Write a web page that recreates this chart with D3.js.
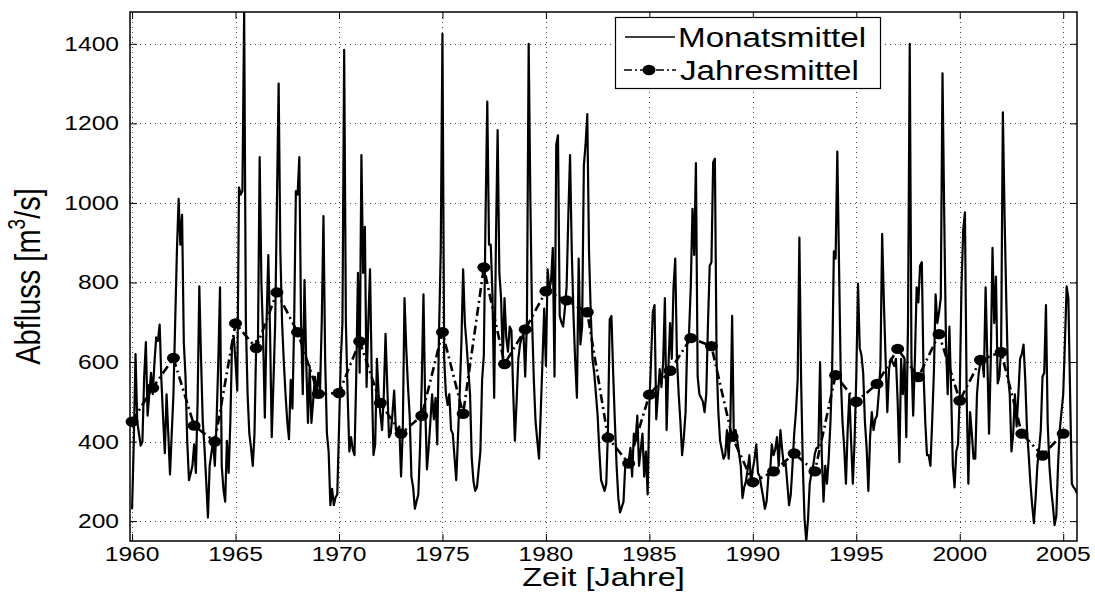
<!DOCTYPE html>
<html><head><meta charset="utf-8">
<script src="https://cdn.jsdelivr.net/npm/d3@7/dist/d3.min.js"></script>
<style>
body{margin:0;background:#fff}
svg{display:block}
text{font-family:"Liberation Sans",Arial,Helvetica,sans-serif;fill:#000}
</style>
</head><body>
<svg id="chart" width="1095" height="594"></svg>
<script>
// ---------------- data ----------------
const firstMonth = 1960;          // time of the first monthly value (Jan 1960)
const axisStart = 1959.9;         // left limit of the time axis
// Monatsmittel (monthly means, m^3/s), Jan..Dec per row
const m1960s = [
  230, 400, 620, 450, 420, 390, 400, 560, 650, 465, 520, 573,
  519, 600, 662, 653, 694, 555, 460, 371, 519, 420, 317, 420,
  519, 700, 878, 1010, 895, 970, 650, 563, 400, 303, 320, 339,
  393, 321, 500, 790, 608, 450, 384, 300, 209, 339, 370, 402,
  339, 450, 600, 788, 339, 280, 249, 402, 321, 450, 653, 662,
  600, 528, 1039, 1021, 1030, 1480, 698, 519, 420, 384, 339, 420,
  653, 644, 1115, 800, 662, 460, 698, 869, 680, 411, 550, 698,
  1000, 1300, 878, 698, 600, 519, 450, 406, 555, 483, 700, 1030,
  1021, 1115, 700, 519, 806, 600, 447, 590, 447, 500, 563, 519,
  573, 528, 700, 967, 600, 420, 375, 240, 281, 240, 260, 267
];
const m1970s = [
  429, 600, 698, 1385, 698, 520, 375, 411, 380, 366, 563, 824,
  573, 1120, 824, 940, 537, 700, 833, 563, 366, 393, 608, 519,
  470, 429, 519, 671, 540, 411, 420, 470, 528, 429, 429, 438,
  312, 429, 761, 635, 540, 465, 312, 285, 231, 250, 267, 384,
  550, 770, 492, 330, 384, 450, 519, 456, 510, 393, 671, 878,
  1425, 608, 520, 492, 519, 429, 420, 360, 303, 411, 519, 650,
  833, 698, 644, 580, 519, 357, 300, 276, 285, 330, 375, 555,
  617, 967, 1255, 895, 895, 770, 510, 895, 1183, 824, 761, 608,
  761, 662, 626, 689, 680, 528, 402, 500, 608, 644, 662, 671,
  563, 707, 1400, 1003, 700, 555, 450, 402, 357, 474, 600, 734
];
const m1980s = [
  590, 833, 779, 806, 887, 563, 1147, 1170, 716, 700, 689, 734,
  788, 967, 1120, 878, 716, 600, 510, 860, 644, 689, 1093, 1147,
  1223, 878, 725, 608, 573, 520, 465, 375, 303, 290, 276, 294,
  429, 707, 716, 573, 450, 339, 258, 222, 235, 249, 339, 348,
  350, 384, 312, 420, 402, 465, 339, 380, 420, 312, 375, 267,
  492, 608, 725, 743, 456, 519, 582, 537, 600, 761, 429, 582,
  698, 608, 788, 860, 608, 519, 450, 366, 411, 474, 653, 671,
  788, 985, 869, 1100, 563, 519, 510, 501, 474, 519, 698, 842,
  851, 1102, 1111, 600, 474, 402, 380, 357, 366, 429, 357, 450,
  716, 402, 429, 402, 370, 339, 258, 285, 300, 330, 366, 294
];
const m1990s = [
  330, 357, 393, 321, 312, 285, 260, 231, 250, 312, 321, 393,
  366, 380, 411, 339, 429, 380, 339, 348, 294, 240, 267, 339,
  420, 474, 555, 913, 555, 339, 204, 150, 204, 294, 320, 339,
  370, 384, 384, 600, 366, 249, 339, 294, 357, 447, 582, 878,
  860, 1129, 842, 563, 450, 384, 294, 429, 519, 400, 294, 400,
  563, 797, 635, 617, 573, 450, 384, 276, 411, 474, 429, 456,
  465, 519, 590, 922, 750, 608, 474, 582, 608, 600, 590, 608,
  500, 348, 608, 519, 608, 411, 698, 1400, 608, 465, 608, 788,
  750, 842, 851, 573, 450, 366, 366, 339, 450, 573, 770, 698,
  725, 761, 1326, 967, 653, 519, 689, 528, 339, 285, 375, 393
];
const m2000s = [
  519, 788, 931, 976, 519, 294, 474, 420, 357, 357, 519, 573,
  600, 608, 563, 788, 608, 420, 608, 887, 698, 815, 546, 563,
  635, 1228, 967, 752, 563, 519, 375, 420, 519, 438, 519, 608,
  620, 644, 555, 429, 366, 294, 240, 195, 258, 339, 380, 429,
  563, 573, 743, 447, 339, 280, 240, 190, 213, 339, 429, 474,
  519, 650, 790, 760, 519, 294, 285, 280, 270
];
// Jahresmittel (annual means), plotted at the start of each year
const annualYears = [1960,1961,1962,1963,1964,1965,1966,1967,1968,1969,
  1970,1971,1972,1973,1974,1975,1976,1977,1978,1979,
  1980,1981,1982,1983,1984,1985,1986,1987,1988,1989,
  1990,1991,1992,1993,1994,1995,1996,1997,1998,1999,
  2000,2001,2002,2003,2004,2005];
const annualMeans = [450,535,610,440,400,697,635,775,675,520,
  522,652,497,420,465,675,470,838,595,682,
  778,755,725,410,345,518,578,660,640,412,
  298,325,370,325,567,500,545,633,562,670,
  503,605,625,420,365,420];
const xTicks = [1960,1965,1970,1975,1980,1985,1990,1995,2000,2005];
const yTicks = [200,400,600,800,1000,1200,1400];
const legendLabels = ["Monatsmittel","Jahresmittel"];
const xTitle = "Zeit [Jahre]";

// ---------------- drawing ----------------
const monthly = [].concat(m1960s, m1970s, m1980s, m1990s, m2000s);
const monthlyPts = monthly.map((v, i) => [firstMonth + i / 12, v]);
const annualPts = annualYears.map((yr, i) => [yr, annualMeans[i]]);

const L = 130, R = 1077, T = 12, B = 541;
const SX = 1.23; // horizontal text stretch of the original figure

const x = d3.scaleLinear().domain([axisStart, monthlyPts[monthlyPts.length - 1][0]]).range([L, R]);
const y = d3.scaleLinear().domain(d3.extent(monthly)).range([B, T]);

const svg = d3.select("#chart");

svg.append("defs").append("clipPath").attr("id", "plotclip")
  .append("rect").attr("x", L).attr("y", T).attr("width", R - L).attr("height", B - T);

// grid
const grid = svg.append("g").attr("stroke", "#444").attr("stroke-width", 1)
  .attr("stroke-dasharray", "1,4").attr("shape-rendering", "crispEdges");
grid.selectAll("line.gx").data(xTicks).join("line")
  .attr("x1", d => Math.round(x(d)) + 0.5).attr("x2", d => Math.round(x(d)) + 0.5)
  .attr("y1", T).attr("y2", B);
grid.selectAll("line.gy").data(yTicks).join("line")
  .attr("y1", d => Math.round(y(d)) + 0.5).attr("y2", d => Math.round(y(d)) + 0.5)
  .attr("x1", L).attr("x2", R);

// axes (ticks inward on all four sides)
const tl = 7;
function styleAxis(g) {
  g.select(".domain").remove();
  g.selectAll(".tick text").remove();
  g.selectAll(".tick line").attr("stroke", "#000").attr("stroke-width", 1);
}
svg.append("g").attr("transform", `translate(0,${B})`)
  .call(d3.axisBottom(x).tickValues(xTicks).tickSizeInner(-tl).tickSizeOuter(0)).call(styleAxis);
svg.append("g").attr("transform", `translate(0,${T})`)
  .call(d3.axisTop(x).tickValues(xTicks).tickSizeInner(-tl).tickSizeOuter(0)).call(styleAxis);
svg.append("g").attr("transform", `translate(${L},0)`)
  .call(d3.axisLeft(y).tickValues(yTicks).tickSizeInner(-tl).tickSizeOuter(0)).call(styleAxis);
svg.append("g").attr("transform", `translate(${R},0)`)
  .call(d3.axisRight(y).tickValues(yTicks).tickSizeInner(-tl).tickSizeOuter(0)).call(styleAxis);

// data
const plot = svg.append("g").attr("clip-path", "url(#plotclip)");
const line = d3.line().x(d => x(d[0])).y(d => y(d[1]));
plot.append("path").datum(monthlyPts).attr("d", line)
  .attr("fill", "none").attr("stroke", "#000").attr("stroke-width", 2.2)
  .attr("stroke-linejoin", "round");
plot.append("path").datum(annualPts).attr("d", line)
  .attr("fill", "none").attr("stroke", "#000").attr("stroke-width", 2.6)
  .attr("stroke-dasharray", "9,4,2,4");
svg.append("g").selectAll("ellipse").data(annualPts).join("ellipse")
  .attr("cx", d => x(d[0])).attr("cy", d => y(d[1]))
  .attr("rx", 6.5).attr("ry", 5.2).attr("fill", "#000");

// frame
svg.append("rect").attr("x", L).attr("y", T).attr("width", R - L).attr("height", B - T)
  .attr("fill", "none").attr("stroke", "#000").attr("stroke-width", 1.5);

// text helper with horizontal stretch
function stext(px, py, str, size, anchor, rot, sx) {
  const g = svg.append("g").attr("transform",
    `translate(${px},${py}) scale(${sx || SX},1)` + (rot ? ` rotate(${rot})` : ""));
  return g.append("text").attr("font-size", size).attr("text-anchor", anchor).text(str);
}

// tick labels
yTicks.forEach(v => stext(119, y(v) + 7, String(v), 20, "end"));
xTicks.forEach(v => stext(x(v), 561, String(v), 20, "middle"));

// axis titles
stext((L + R) / 2, 586, xTitle, 25, "middle", 0, 1.3);
const yl = stext(40, (T + B) / 2, "", 29, "middle", -90);
yl.append("tspan").text("Abfluss [m");
yl.append("tspan").attr("font-size", 19).attr("dy", -12).text("3");
yl.append("tspan").attr("dy", 12).text("/s]");

// legend
const lg = svg.append("g");
lg.append("rect").attr("x", 615.5).attr("y", 17.5).attr("width", 265).attr("height", 71)
  .attr("fill", "#fff").attr("stroke", "#000").attr("stroke-width", 1.2);
lg.append("line").attr("x1", 625).attr("x2", 675).attr("y1", 37).attr("y2", 37)
  .attr("stroke", "#000").attr("stroke-width", 1.5);
lg.append("line").attr("x1", 624).attr("x2", 676).attr("y1", 70).attr("y2", 70)
  .attr("stroke", "#000").attr("stroke-width", 1.5).attr("stroke-dasharray", "8,3,2,3");
lg.append("ellipse").attr("cx", 649).attr("cy", 70).attr("rx", 6.5).attr("ry", 5.2).attr("fill", "#000");
stext(678, 47, legendLabels[0], 27, "start");
stext(680, 80, legendLabels[1], 27, "start");
</script>
</body></html>
